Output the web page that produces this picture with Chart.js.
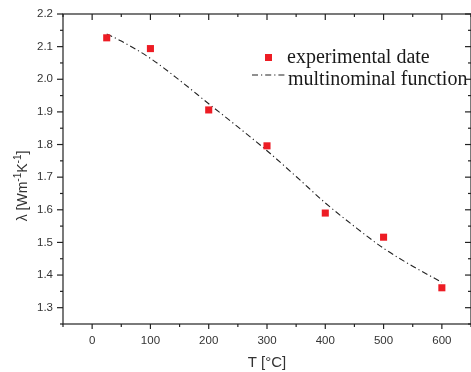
<!DOCTYPE html>
<html lang="en">
<head>
<meta charset="UTF-8">
<title>Thermal conductivity vs. temperature</title>
<script src="https://cdn.jsdelivr.net/npm/chart.js@4.4.1/dist/chart.umd.min.js"></script>
<style>
    html, body { margin: 0; padding: 0; background: #fff; overflow: hidden; }
    .wrap { width: 476px; height: 372px; position: relative; }
</style>
</head>
<body>
<div class="wrap"><canvas id="chart"></canvas></div>
<script>
// measured conductivity
const temps = [25, 100, 200, 300, 400, 500, 600];
const lambdaMeasured = [2.127, 2.094, 1.906, 1.796, 1.590, 1.516, 1.361];

// fitted polynomial
const fitTemps = [25, 50, 100, 150, 200, 250, 300, 350, 400, 450, 500, 550, 600];
const fitValues = [2.139, 2.117, 2.064, 1.997, 1.925, 1.854, 1.781, 1.702, 1.621, 1.549, 1.482, 1.427, 1.378];

const xTicks = [0, 100, 200, 300, 400, 500, 600];
const yTicks = [1.3, 1.4, 1.5, 1.6, 1.7, 1.8, 1.9, 2.0, 2.1, 2.2];
const seriesNames = ['experimental date', 'multinominal function'];

const RED = '#ed1c24';
const INK = '#222';
const SANS = '"Liberation Sans", Arial, sans-serif';
const SERIF = '"Liberation Serif", "Times New Roman", serif';

// box, tick marks on all four sides, y title with superscripts, legend
const framePlugin = {
    id: 'frame',
    afterDatasetsDraw(chart) {
        const { ctx, chartArea: a, scales: { x, y } } = chart;
        ctx.save();
        ctx.strokeStyle = INK;
        ctx.lineWidth = 1.2;
        ctx.strokeRect(a.left, a.top, a.right - a.left, a.bottom - a.top);

        const seg = (x1, y1, x2, y2) => {
            ctx.beginPath(); ctx.moveTo(x1, y1); ctx.lineTo(x2, y2); ctx.stroke();
        };
        for (let i = 0; i <= 14; i++) {
            const v = -50 + i * 50;
            const px = x.getPixelForValue(v);
            const major = v % 100 === 0;
            seg(px, a.bottom, px, a.bottom + (major ? 5 : 3));
            seg(px, a.top, px, a.top + (major ? 6 : 3));
        }
        for (let i = 0; i <= 19; i++) {
            const v = (125 + i * 5) / 100;
            const py = y.getPixelForValue(v);
            const major = i % 2 === 1;
            seg(a.left, py, a.left - (major ? 6 : 3), py);
            seg(a.right, py, a.right - (major ? 6 : 3), py);
        }

        // y axis title: λ [Wm-1K-1]
        const parts = [['λ [Wm', 0], ['-1', 1], ['K', 0], ['-1', 1], [']', 0]];
        const fontFor = s => s ? '10px ' + SANS : '14px ' + SANS;
        let total = 0;
        parts.forEach(([t, s]) => { ctx.font = fontFor(s); total += ctx.measureText(t).width; });
        ctx.translate(22, 186);
        ctx.rotate(-Math.PI / 2);
        ctx.fillStyle = '#333';
        ctx.textBaseline = 'alphabetic';
        let cx = -total / 2;
        parts.forEach(([t, s]) => {
            ctx.font = fontFor(s);
            ctx.fillText(t, cx, s ? -1 : 5);
            cx += ctx.measureText(t).width;
        });
        ctx.restore();

        // legend
        ctx.save();
        ctx.fillStyle = RED;
        ctx.fillRect(265, 54, 7, 7);
        ctx.strokeStyle = INK;
        ctx.lineWidth = 1.1;
        ctx.setLineDash([6, 3, 1.2, 3]);
        seg(252, 75, 285, 75);
        ctx.setLineDash([]);
        ctx.fillStyle = '#1a1a1a';
        ctx.font = '20px ' + SERIF;
        ctx.textBaseline = 'alphabetic';
        ctx.fillText(seriesNames[0], 287, 63);
        ctx.fillText(seriesNames[1], 288, 85);
        ctx.restore();
    }
};

// fixed axis boxes so the plot frame lands at left 63, top 14, bottom 324
const fixBox = (w, h) => s => {
    if (w) s.width = w;
    if (h) s.height = h;
    s.paddingTop = 0; s.paddingBottom = 0;
    s.paddingLeft = 0; s.paddingRight = 0;
};

new Chart(document.getElementById('chart'), {
    type: 'scatter',
    data: {
        datasets: [
            {
                label: seriesNames[0],
                data: temps.map((t, i) => ({ x: t, y: lambdaMeasured[i] })),
                pointStyle: 'rect',
                pointRadius: 5,
                pointBorderWidth: 0,
                backgroundColor: RED,
                borderColor: RED
            },
            {
                label: seriesNames[1],
                type: 'line',
                data: fitTemps.map((t, i) => ({ x: t, y: fitValues[i] })),
                showLine: true,
                pointRadius: 0,
                borderColor: INK,
                borderWidth: 1.1,
                borderDash: [6, 3, 1.2, 3],
                cubicInterpolationMode: 'monotone',
                fill: false
            }
        ]
    },
    options: {
        responsive: true,
        maintainAspectRatio: false,
        animation: false,
        layout: { padding: { left: 0, right: 3, top: 14, bottom: 0 } },
        plugins: { legend: { display: false }, tooltip: { enabled: false } },
        scales: {
            x: {
                type: 'linear',
                min: -50,
                max: 650,
                afterBuildTicks: s => { s.ticks = xTicks.map(v => ({ value: v })); },
                afterFit: fixBox(0, 48),
                grid: { display: false, drawTicks: false },
                border: { display: false },
                ticks: {
                    padding: 10,
                    color: '#333',
                    font: { family: SANS, size: 11.5 },
                    callback: v => String(v)
                },
                title: {
                    display: true,
                    text: 'T [°C]',
                    color: '#333',
                    font: { family: SANS, size: 15 },
                    padding: { top: 0, bottom: 0 }
                }
            },
            y: {
                type: 'linear',
                min: 1.25,
                max: 2.2,
                afterBuildTicks: s => { s.ticks = yTicks.map(v => ({ value: v })); },
                afterFit: fixBox(63, 0),
                grid: { display: false, drawTicks: false },
                border: { display: false },
                ticks: {
                    padding: 10,
                    color: '#333',
                    font: { family: SANS, size: 11.5 },
                    callback: v => v.toFixed(1)
                }
            }
        }
    },
    plugins: [framePlugin]
});
</script>
</body>
</html>
